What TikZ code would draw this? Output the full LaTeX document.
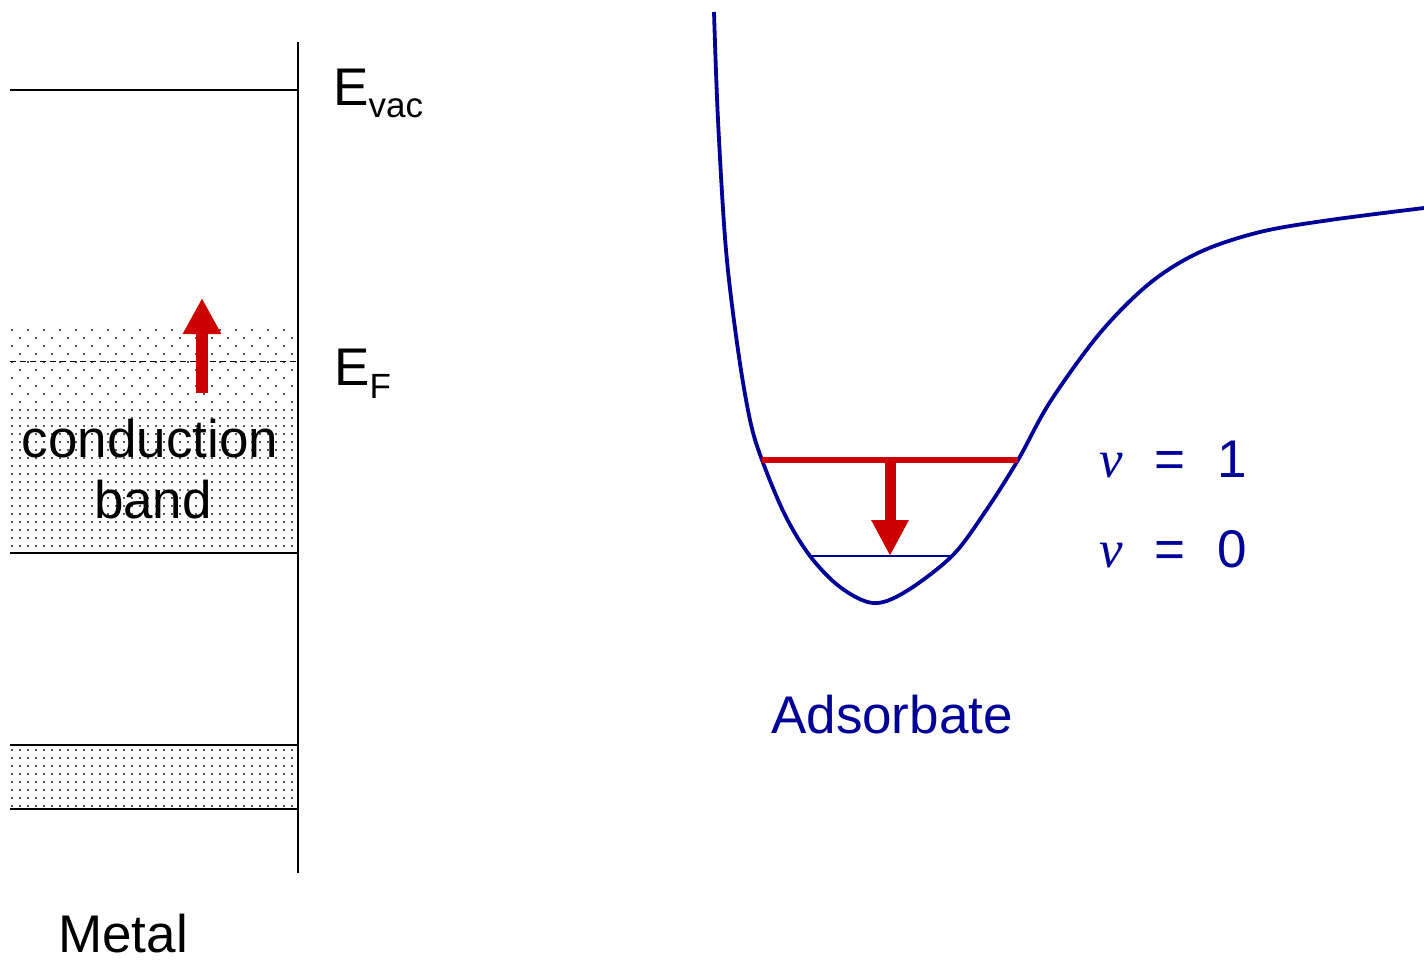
\documentclass[tikz,border=0pt]{standalone}
\usepackage{fontspec}
\setmainfont{Liberation Sans}
\newfontfamily\vfont{Liberation Serif}
\usetikzlibrary{arrows.meta}
\definecolor{cblue}{RGB}{0,0,153}
\definecolor{cred}{RGB}{204,0,0}
\definecolor{dotc}{RGB}{90,90,90}
\tikzset{
  level/.style={line width=1.6pt, black},
  bigtxt/.style={inner sep=0pt, font=\fontsize{53}{60}\selectfont},
  etxt/.style={inner sep=0pt, font=\fontsize{53}{60}\selectfont},
  redarrow/.style={cred, line width=12pt, -{Triangle[width=36pt,length=36pt]}},
  dotfill/.style={fill=dotc},
}
\begin{document}
\begin{tikzpicture}[x=1pt,y=-1pt]
\useasboundingbox (0,0) rectangle (1424,959);

% dotted band regions
\foreach \yy [count=\i] in {330,338,...,402}{
  \pgfmathsetmacro{\off}{mod(\i,2)==0 ? 8 : 0}
  \foreach \xx in {12,28,...,292}{
    \fill[dotfill] (\xx+\off-0.8,\yy-0.8) rectangle (\xx+\off+0.8,\yy+0.8);
  }
}
\foreach \yy in {410,418,...,546}{
  \foreach \xx in {12,20,...,296}{
    \fill[dotfill] (\xx-0.8,\yy-0.8) rectangle (\xx+0.8,\yy+0.8);
  }
}
\foreach \yy in {750,758,...,806}{
  \foreach \xx in {12,20,...,296}{
    \fill[dotfill] (\xx-0.8,\yy-0.8) rectangle (\xx+0.8,\yy+0.8);
  }
}

% metal levels
\coordinate (axtop) at (298,42);
\coordinate (axbot) at (298,873);
\draw[level] (axtop) -- (axbot);
\coordinate (vacL) at (10,90);   \coordinate (vacR) at (298,90);
\coordinate (cbL) at (10,553);   \coordinate (cbR) at (298,553);
\coordinate (vbtL) at (10,745);  \coordinate (vbtR) at (298,745);
\coordinate (vbbL) at (10,809);  \coordinate (vbbR) at (298,809);
\coordinate (efL) at (10,361);   \coordinate (efR) at (298,361);
\draw[level] (vacL) -- (vacR);
\draw[level] (cbL) -- (cbR);
\draw[level] (vbtL) -- (vbtR);
\draw[level] (vbbL) -- (vbbR);
\draw[line width=1pt, dash pattern=on 6pt off 4pt] (efL) -- (efR);

% red up arrow
\coordinate (upS) at (202,393);
\coordinate (upE) at (202,298);
\draw[redarrow] (upS) -- (upE);

% labels left
\node[etxt, anchor=base west] (evac) at (333,105) {E\raisebox{-12pt}{\fontsize{35}{40}\selectfont vac}};
\node[etxt, anchor=base west] (ef) at (334,385) {E\raisebox{-13pt}{\fontsize{35}{40}\selectfont F}};
\node[bigtxt, anchor=base] (cond) at (150,457) {conduction};
\node[bigtxt, anchor=base] (band) at (153,518) {band};
\node[bigtxt, anchor=base] (metal) at (123,952) {Metal};

% potential curve
\draw[cblue, line width=3.8pt, line join=round] plot[smooth, tension=0.55] coordinates {
 (714,12) (718,120) (726,250) (738,350) (750,420) (762,460) (785,515) (810,556) (840,587) (873,603) (905,592) (952,556) (985,512) (1018,460) (1050,402) (1100,333) (1150,283) (1200,252) (1260,232) (1330,220) (1424,208)};

% vibrational levels
\coordinate (v1L) at (762,460); \coordinate (v1R) at (1018,460);
\coordinate (v0L) at (808,556); \coordinate (v0R) at (952,556);
\draw[cred, line width=6pt] (v1L) -- (v1R);
\draw[cblue, line width=1.5pt] (v0L) -- (v0R);
\coordinate (dnS) at (890,460);
\coordinate (dnE) at (890,556);
\draw[redarrow, line width=11pt, -{Triangle[width=35pt,length=36pt]}] (dnS) -- (dnE);

% labels right
\node[bigtxt, text=cblue, anchor=base west] (lv1) at (1099,477) {{\vfont\itshape v}\hspace{32pt}=\hspace{32pt}1};
\node[bigtxt, text=cblue, anchor=base west] (lv0) at (1099,567) {{\vfont\itshape v}\hspace{32pt}=\hspace{32pt}0};
\node[bigtxt, text=cblue, anchor=base] (ads) at (892,733) {Adsorbate};
\end{tikzpicture}
\end{document}
